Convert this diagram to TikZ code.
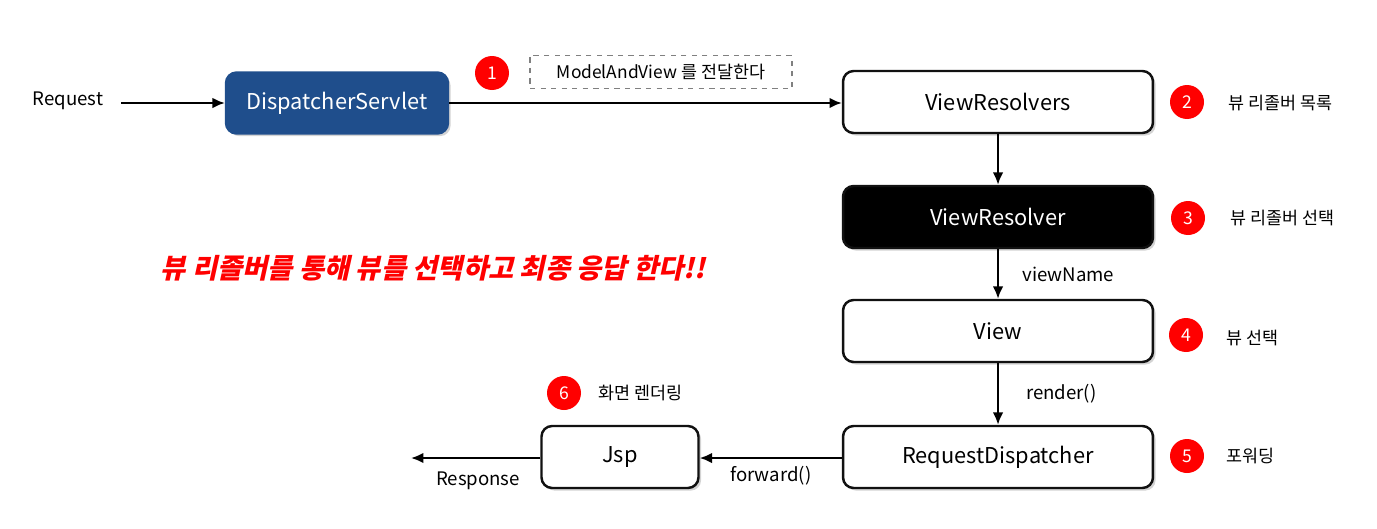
\documentclass[tikz,border=0pt]{standalone}
\usepackage{fontspec}
\setmainfont{Noto Sans CJK KR}
\newfontfamily\redtitlefont[FakeSlant=0.22]{Noto Sans CJK KR}
\usetikzlibrary{arrows.meta, shadows, positioning}
\definecolor{servletblue}{HTML}{1F4E8C}
\definecolor{stepred}{HTML}{FF0000}
\definecolor{boxline}{HTML}{111111}
\tikzset{
  flowbox/.style={draw=boxline, fill=white, rounded corners=6pt, line width=1.4pt,
    minimum width=6.2cm, minimum height=1.24cm, font=\fontsize{12.4}{14}\selectfont,
    drop shadow={shadow xshift=1.5pt, shadow yshift=-1.5pt, opacity=0.35}},
  stepdot/.style={circle, fill=stepred, text=white, minimum size=0.68cm, inner sep=0pt,
    font=\fontsize{10}{11}\selectfont},
  steptext/.style={anchor=west, font=\fontsize{9.9}{11}\selectfont},
  flowarrow/.style={-{Latex[length=7pt,width=6pt]}, line width=1.2pt},
  smalltext/.style={font=\fontsize{10.6}{12}\selectfont}
}
\begin{document}
\begin{tikzpicture}[x=0.02cm, y=-0.02cm]
  \useasboundingbox (0,0) rectangle (1377,528);
  % main boxes
  \node[flowbox, fill=servletblue, draw=servletblue, text=white, minimum width=4.44cm, minimum height=1.22cm] (servlet) at (337,103) {DispatcherServlet};
  \node[flowbox] (resolvers) at (998,102) {ViewResolvers};
  \node[flowbox, fill=black, text=white] (resolver) at (998,217) {ViewResolver};
  \node[flowbox] (view) at (998,331) {View};
  \node[flowbox] (dispatcher) at (998,457) {RequestDispatcher};
  \node[flowbox, minimum width=3.14cm] (jsp) at (620,457) {Jsp};
  % request / response
  \node[smalltext] (request) at (68,101) {Request};
  \coordinate (response end) at (411,458);
  \node[smalltext] (response) at (478,481) {Response};
  % steps
  \node[stepdot] (one) at (492,73) {1};
  \node[draw=gray, dashed, line width=0.8pt, minimum width=5.24cm, minimum height=0.66cm,
    font=\fontsize{9.9}{11}\selectfont] (mav) at (661,72) {ModelAndView 를 전달한다};
  \node[stepdot] (two) at (1187,102) {2};
  \node[steptext] (twotext) at (1222,103) {뷰 리졸버 목록};
  \node[stepdot] (three) at (1188,218) {3};
  \node[steptext] (threetext) at (1224,218) {뷰 리졸버 선택};
  \node[stepdot] (four) at (1186,335) {4};
  \node[steptext] (fourtext) at (1220,338) {뷰 선택};
  \node[stepdot] (five) at (1187,456) {5};
  \node[steptext] (fivetext) at (1220,456) {포워딩};
  \node[stepdot] (six) at (564,393) {6};
  \node[steptext] (sixtext) at (592,393) {화면 렌더링};
  % headline
  \node[text=stepred, font=\redtitlefont\bfseries\fontsize{15.6}{18}\selectfont] (headline) at (433,268) {뷰 리졸버를 통해 뷰를 선택하고 최종 응답 한다!!};
  % connectors
  \draw[flowarrow] (request.east) ++(12,2) -- (servlet.west |- 0,103);
  \draw[flowarrow] (servlet.east |- 0,103) -- (resolvers.west |- 0,103);
  \draw[flowarrow] (resolvers) -- (resolver);
  \draw[flowarrow] (resolver) -- node[right=10pt, smalltext] {viewName} (view);
  \draw[flowarrow] (view) -- node[right=12pt, smalltext] {render()} (dispatcher);
  \draw[flowarrow] (dispatcher.west |- 0,458) -- node[below=1pt, smalltext] {forward()} (jsp.east |- 0,458);
  \draw[flowarrow] (jsp.west |- 0,458) -- (response end);
\end{tikzpicture}
\end{document}
